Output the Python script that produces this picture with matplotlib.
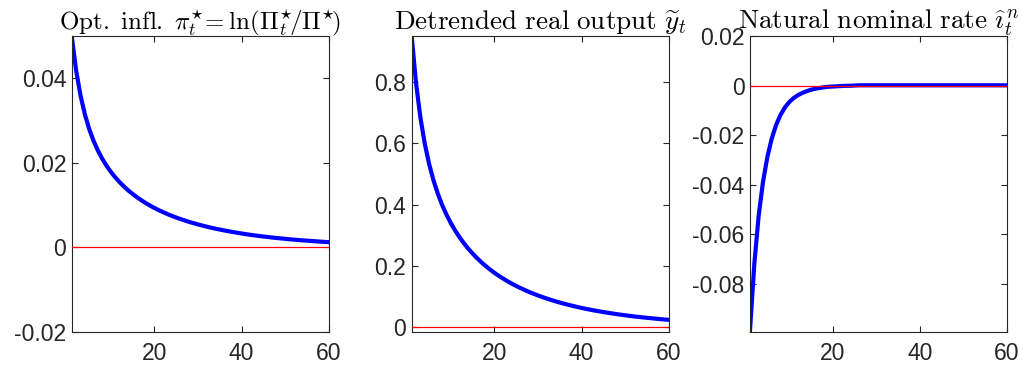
import numpy as np
import matplotlib
matplotlib.use("Agg")
import matplotlib.pyplot as plt

plt.rcParams['font.family'] = ['Liberation Sans', 'DejaVu Sans']
plt.rcParams['mathtext.fontset'] = 'cm'

t = np.arange(1, 61)

# optimal inflation pi*_t
pi_opt = [0.05000, 0.04195, 0.03603, 0.03155, 0.02804, 0.02524, 0.02293, 0.02098, 0.01931, 0.01786,
          0.01657, 0.01543, 0.01440, 0.01347, 0.01263, 0.01186, 0.01115, 0.01049, 0.00989, 0.00933,
          0.00881, 0.00834, 0.00788, 0.00746, 0.00707, 0.00671, 0.00636, 0.00603, 0.00573, 0.00544,
          0.00517, 0.00492, 0.00467, 0.00444, 0.00423, 0.00403, 0.00383, 0.00365, 0.00347, 0.00331,
          0.00314, 0.00299, 0.00285, 0.00272, 0.00259, 0.00247, 0.00235, 0.00224, 0.00214, 0.00204,
          0.00194, 0.00185, 0.00176, 0.00168, 0.00161, 0.00153, 0.00146, 0.00138, 0.00132, 0.00126]

# detrended real output
y_tilde = [0.9500, 0.7971, 0.6846, 0.5994, 0.5328, 0.4795, 0.4356, 0.3986, 0.3669, 0.3393,
           0.3148, 0.2932, 0.2737, 0.2560, 0.2400, 0.2253, 0.2118, 0.1994, 0.1879, 0.1773,
           0.1674, 0.1584, 0.1498, 0.1418, 0.1344, 0.1274, 0.1209, 0.1146, 0.1089, 0.1034,
           0.0982, 0.0934, 0.0888, 0.0844, 0.0803, 0.0765, 0.0728, 0.0693, 0.0659, 0.0628,
           0.0597, 0.0569, 0.0542, 0.0517, 0.0492, 0.0470, 0.0447, 0.0426, 0.0406, 0.0387,
           0.0369, 0.0351, 0.0335, 0.0319, 0.0305, 0.0291, 0.0277, 0.0263, 0.0251, 0.0239]

# natural nominal rate
i_nat = [-0.0990, -0.0720, -0.0525, -0.0388, -0.0288, -0.0214, -0.0159, -0.0119, -0.0089, -0.0067,
         -0.0051, -0.0039, -0.0030, -0.0023, -0.0017, -0.0013, -0.0010, -0.0007, -0.0005, -0.0004,
         -0.0003, -0.0002, -0.0001, -0.0001, 0.0000, 0.0001, 0.0001, 0.0001, 0.0001, 0.0001,
         0.0001, 0.0001, 0.0001, 0.0001, 0.0001, 0.0001, 0.0001, 0.0001, 0.0001, 0.0001,
         0.0001, 0.0001, 0.0001, 0.0001, 0.0001, 0.0001, 0.0001, 0.0001, 0.0001, 0.0001,
         0.0001, 0.0001, 0.0001, 0.0001, 0.0001, 0.0001, 0.0001, 0.0001, 0.0001, 0.0001]

titles = [r'$\mathrm{Opt.\ infl.}\ \pi_t^{\star}\! = \ln(\Pi_t^{\star}\!/\Pi^{\star}\!)$',
          r'$\mathrm{Detrended\ real\ output}\ \widetilde{y}_t$',
          r'$\mathrm{Natural\ nominal\ rate}\ \widehat{\imath}_t^{\,n}$']
title_sizes = [18, 19.5, 19.5]
series = [pi_opt, y_tilde, i_nat]
ylims = [(-0.02, 0.05), (-0.016, 0.95), (-0.0995, 0.02)]
yticks = [[-0.02, 0, 0.02, 0.04],
          [0, 0.2, 0.4, 0.6, 0.8],
          [-0.08, -0.06, -0.04, -0.02, 0, 0.02]]
yticklabels = [['-0.02', '0', '0.02', '0.04'],
               ['0', '0.2', '0.4', '0.6', '0.8'],
               ['-0.08', '-0.06', '-0.04', '-0.02', '0', '0.02']]

fig = plt.figure(figsize=(10.23, 3.71), dpi=100)
lefts = [0.0701, 0.4024, 0.7331]
dark = '#262626'

for k in range(3):
    ax = fig.add_axes([lefts[k], 0.105, 0.2512, 0.798])
    ax.plot(t, series[k], color=(0, 0, 1), lw=3.0, zorder=2)
    ax.plot(t, np.zeros(len(t)), color=(1, 0, 0), lw=0.9, zorder=3)
    ax.set_xlim(1, 60)
    ax.set_ylim(*ylims[k])
    ax.set_xticks([20, 40, 60])
    ax.set_yticks(yticks[k])
    ax.set_yticklabels(yticklabels[k])
    ax.tick_params(direction='in', length=4, width=0.8, colors=dark,
                   labelsize=16.5, top=True, right=True)
    ax.tick_params(axis='x', pad=7)
    ax.tick_params(axis='y', pad=4)
    for s in ax.spines.values():
        s.set_color(dark)
        s.set_linewidth(0.8)
    ax.set_title(titles[k], fontsize=title_sizes[k], pad=5, color='black')

fig.savefig('out.png', dpi=100)
